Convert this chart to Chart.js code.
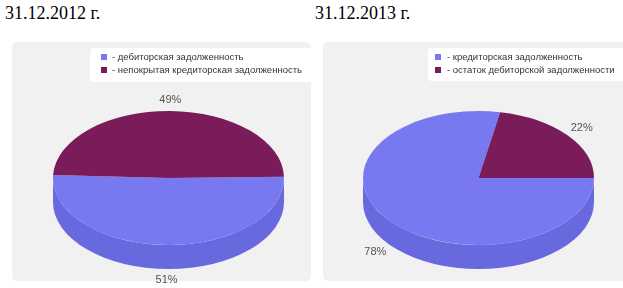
<!DOCTYPE html>
<html><head><meta charset="utf-8">
<script src="https://cdn.jsdelivr.net/npm/chart.js@4"></script>
<style>
html,body{margin:0;padding:0;background:#fff;width:623px;height:288px;overflow:hidden}
.title{position:absolute;top:4px;font:18px "Liberation Serif","Times New Roman",serif;line-height:18px;color:#000;white-space:nowrap}
.panel{position:absolute;top:42px;height:239px;background:#f1f1f1;border-radius:5px}
canvas{position:absolute;top:0}
</style></head><body>
<div class="title" style="left:5px">31.12.2012 г.</div>
<div class="title" style="left:315px">31.12.2013 г.</div>
<div class="panel" style="left:12px;width:299px"></div>
<div class="panel" style="left:323px;width:310px"></div>
<canvas id="c1" width="311" height="288" style="left:0"></canvas>
<canvas id="c2" width="312" height="288" style="left:311px"></canvas>
<script>
const labels2012 = ['- дебиторская задолженность', '- непокрытая кредиторская задолженность'];
const values2012 = [51, 49];
const labels2013 = ['- кредиторская задолженность', '- остаток дебиторской задолженности'];
const values2013 = [78, 22];
const topColors = ['#7878f0', '#7a1c5a'];
const sideColors = ['#6868df', '#5e1446'];

const TAU = Math.PI * 2;

const pie3d = {
  id: 'pie3d',
  beforeDatasetsDraw(chart, args, o) {
    const ctx = chart.ctx;
    const arcs = chart.getDatasetMeta(0).data;
    ctx.save();
    arcs.forEach((arc, i) => {
      const p = arc.getProps(['x', 'y', 'startAngle', 'endAngle', 'outerRadius'], true);
      const rx = p.outerRadius, ry = rx * o.tilt, cx = p.x, cy = o.cy;
      let s = p.startAngle, e = p.endAngle;
      const off = Math.floor(s / TAU) * TAU; s -= off; e -= off;
      [0, TAU].forEach(base => {
        const a = Math.max(s, base), b = Math.min(e, base + Math.PI);
        if (b > a) {
          ctx.beginPath();
          ctx.ellipse(cx, cy, rx, ry, 0, a, b);
          ctx.ellipse(cx, cy + o.depth, rx, ry, 0, b, a, true);
          ctx.closePath();
          ctx.fillStyle = sideColors[i];
          ctx.fill();
        }
      });
    });
    ctx.restore();
    const p0 = arcs[0].getProps(['x', 'y'], true);
    ctx.save();
    ctx.translate(p0.x, o.cy);
    ctx.scale(1, o.tilt);
    ctx.translate(-p0.x, -p0.y);
  },
  afterDatasetsDraw(chart, args, o) {
    const ctx = chart.ctx;
    ctx.restore();
    const arcs = chart.getDatasetMeta(0).data;
    const vals = chart.data.datasets[0].data;
    ctx.save();
    ctx.font = '11px "Liberation Sans", Arial, sans-serif';
    ctx.fillStyle = '#555';
    ctx.textAlign = 'center';
    ctx.textBaseline = 'middle';
    arcs.forEach((arc, i) => {
      const p = arc.getProps(['x', 'startAngle', 'endAngle', 'outerRadius'], true);
      const m = (p.startAngle + p.endAngle) / 2;
      const rx = p.outerRadius, ry = rx * o.tilt;
      const k = 1.16;
      const sn = Math.sin(m);
      const x = p.x + rx * k * Math.cos(m);
      const y = o.cy + ry * k * sn + (sn > 0 ? o.depth : 0);
      ctx.fillText(vals[i] + '%', x, y);
    });
    ctx.restore();
  },
  afterDraw(chart, args, o) {
    const ctx = chart.ctx;
    const L = o.legend;
    ctx.save();
    ctx.fillStyle = '#ffffff';
    ctx.beginPath();
    ctx.roundRect(L.x, L.y, L.w, L.h, 4);
    ctx.fill();
    ctx.font = '9.5px "Liberation Sans", Arial, sans-serif';
    ctx.textBaseline = 'middle';
    ctx.textAlign = 'left';
    chart.data.labels.forEach((lab, i) => {
      const cy = L.y + 9 + i * 13;
      ctx.fillStyle = topColors[i];
      ctx.fillRect(L.sq, cy - 3, 6, 6);
      ctx.fillStyle = '#333';
      ctx.fillText(lab, L.tx, cy);
    });
    ctx.restore();
  }
};

function makePie(id, labels, values, rot, padL, padR, legend) {
  return new Chart(document.getElementById(id), {
    type: 'pie',
    data: {
      labels: labels,
      datasets: [{
        data: values,
        backgroundColor: topColors,
        borderWidth: 0,
        hoverOffset: 0,
        clip: false
      }]
    },
    options: {
      responsive: false,
      animation: false,
      events: [],
      rotation: rot,
      layout: { padding: { left: padL, right: padR, top: 20, bottom: 37 } },
      plugins: {
        legend: { display: false },
        tooltip: { enabled: false },
        pie3d: { cy: 178, tilt: 0.58, depth: 24, legend: legend }
      }
    },
    plugins: [pie3d]
  });
}

makePie('c1', labels2012, values2012, 89, 53, 27, { x: 90, y: 48, w: 240, h: 34, sq: 101, tx: 112 });
makePie('c2', labels2013, values2013, 90, 52, 29, { x: 117, y: 48, w: 210, h: 33, sq: 124, tx: 136 });
</script>
</body></html>
